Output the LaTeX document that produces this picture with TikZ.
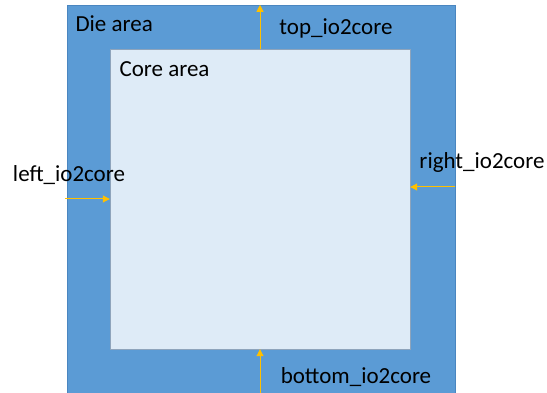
\documentclass[tikz,border=0pt]{standalone}
\usepackage{fontspec}
\setmainfont{Carlito}
\usetikzlibrary{arrows.meta,positioning}

\definecolor{dieblue}{HTML}{5B9BD5}
\definecolor{dieedge}{HTML}{4A86C0}
\definecolor{corefill}{HTML}{DEEBF7}
\definecolor{coreedge}{HTML}{8EA4BC}
\definecolor{ioarrow}{HTML}{FFC000}

\begin{document}
\begin{tikzpicture}[
    x=1pt, y=-1pt,
    every node/.style={font=\fontsize{23}{25}\selectfont},
    area/.style={draw, rectangle, inner sep=0pt},
    io/.style={draw=ioarrow, line width=1pt, -{Triangle[length=7pt,width=7pt]}}
]
\useasboundingbox (0,0) rectangle (547,393);

% Areas
\node[area, draw=dieedge, fill=dieblue,
      minimum width=388pt, minimum height=388pt] (die) at (261,199) {};
\node[area, draw=coreedge, fill=corefill,
      minimum width=300pt, minimum height=300pt] (core) at (260,199) {};

\node[anchor=west] (dielbl) at (72,24) {Die area};
\node[anchor=west] (corelbl) at (116,69) {Core area};

% Edge points
\coordinate (lin) at (die.west);
\coordinate (rin) at ([yshift=12pt]die.east);
\coordinate (tin) at ([xshift=-1pt]die.north);
\coordinate (bin) at ([xshift=-1pt]die.south);

% io2core arrows
\draw[io] ([xshift=-2pt]lin) -- (lin -| core.west);
\draw[io] (rin) -- (rin -| core.east);
\draw[io] (core.north) -- (tin);
\draw[io] (bin) -- (core.south);

% Labels
\node (toplbl) at (336,28) {top\_io2core};
\node (botlbl) at (356,377) {bottom\_io2core};
\node (leftlbl) at (69,175) {left\_io2core};
\node (rightlbl) at (482,162) {right\_io2core};

\end{tikzpicture}
\end{document}
